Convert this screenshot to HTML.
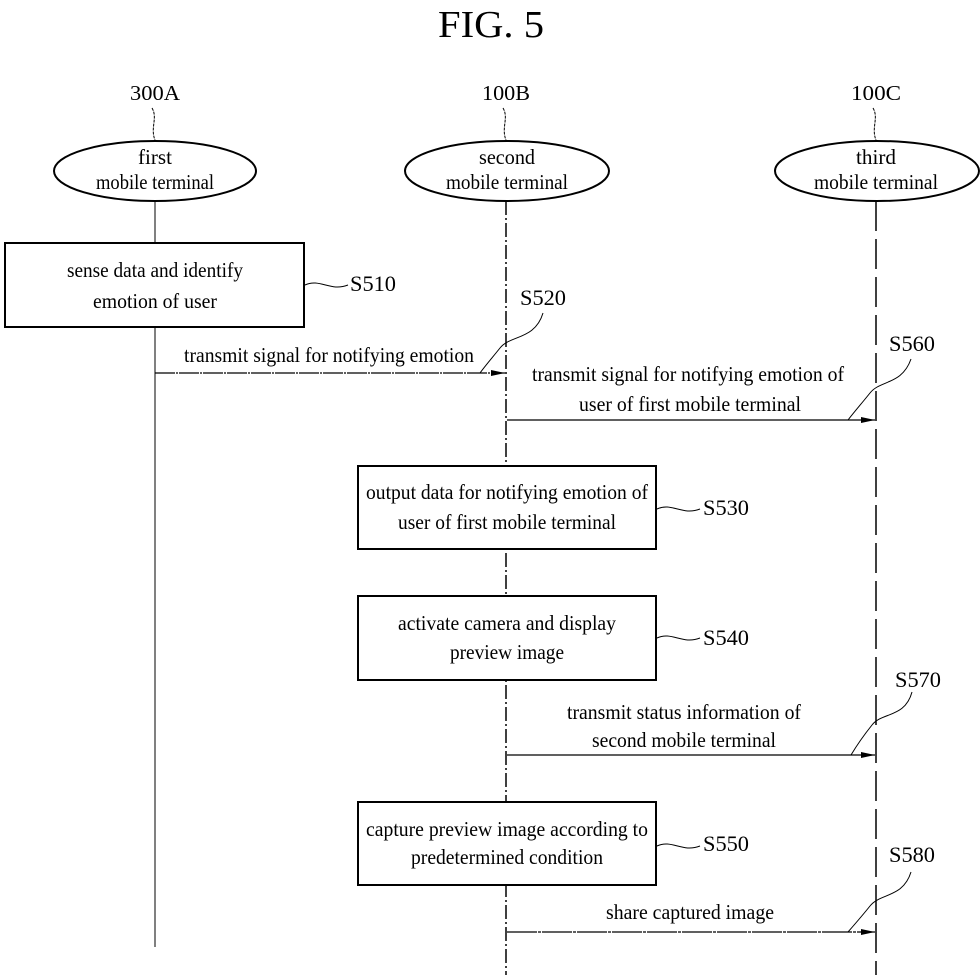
<!DOCTYPE html>
<html><head><meta charset="utf-8"><style>
html,body{margin:0;padding:0;background:#fff;}
svg{display:block;}
text{font-family:"Liberation Serif",serif;fill:#000;}
</style></head><body>
<svg width="980" height="980" viewBox="0 0 980 980" xmlns="http://www.w3.org/2000/svg">
<defs>
<marker id="ar" markerWidth="14" markerHeight="8" refX="14" refY="4" orient="auto" markerUnits="userSpaceOnUse">
<path d="M0,1 L14,4 L0,7 Z" fill="#000"/>
</marker>
</defs>
<text x="491" y="37" font-size="38" text-anchor="middle" textLength="106" lengthAdjust="spacingAndGlyphs">FIG. 5</text>

<text x="155" y="100" font-size="21" text-anchor="middle" textLength="50" lengthAdjust="spacingAndGlyphs">300A</text>
<text x="506" y="100" font-size="21" text-anchor="middle" textLength="48" lengthAdjust="spacingAndGlyphs">100B</text>
<text x="876" y="100" font-size="21" text-anchor="middle" textLength="50" lengthAdjust="spacingAndGlyphs">100C</text>
<g fill="none" stroke="#000" stroke-width="1" stroke-dasharray="3,1">
<path d="M152,108 C158,118 150,128 155,140"/>
<path d="M503,108 C509,118 501,128 506,140"/>
<path d="M873,108 C879,118 871,128 876,140"/>
</g>

<g fill="#fff" stroke="#000" stroke-width="2">
<ellipse cx="155" cy="171" rx="101" ry="30"/>
<ellipse cx="507" cy="171" rx="102" ry="30"/>
<ellipse cx="877" cy="171" rx="102" ry="30"/>
</g>
<g font-size="21" text-anchor="middle">
<text x="155" y="164" textLength="34" lengthAdjust="spacingAndGlyphs">first</text>
<text x="155" y="189" textLength="118" lengthAdjust="spacingAndGlyphs">mobile terminal</text>
<text x="507" y="164" textLength="56" lengthAdjust="spacingAndGlyphs">second</text>
<text x="507" y="189" textLength="122" lengthAdjust="spacingAndGlyphs">mobile terminal</text>
<text x="876" y="164" textLength="40" lengthAdjust="spacingAndGlyphs">third</text>
<text x="876" y="189" textLength="124" lengthAdjust="spacingAndGlyphs">mobile terminal</text>
</g>

<line x1="155" y1="201" x2="155" y2="947" stroke="#000" stroke-width="1"/>
<line x1="506" y1="201" x2="506" y2="975" stroke="#000" stroke-width="1.5" stroke-dasharray="14,3,2,3"/>
<line x1="876" y1="201" x2="876" y2="975" stroke="#000" stroke-width="1.5" stroke-dasharray="30,8"/>

<g fill="#fff" stroke="#000" stroke-width="2">
<rect x="5" y="243" width="299" height="84"/>
<rect x="358" y="466" width="298" height="83"/>
<rect x="358" y="596" width="298" height="84"/>
<rect x="358" y="802" width="298" height="83"/>
</g>
<g font-size="21" text-anchor="middle">
<text x="155" y="277" textLength="176" lengthAdjust="spacingAndGlyphs">sense data and identify</text>
<text x="155" y="308" textLength="124" lengthAdjust="spacingAndGlyphs">emotion of user</text>
<text x="507" y="499" textLength="282" lengthAdjust="spacingAndGlyphs">output data for notifying emotion of</text>
<text x="507" y="529" textLength="218" lengthAdjust="spacingAndGlyphs">user of first mobile terminal</text>
<text x="507" y="630" textLength="218" lengthAdjust="spacingAndGlyphs">activate camera and display</text>
<text x="507" y="659" textLength="114" lengthAdjust="spacingAndGlyphs">preview image</text>
<text x="507" y="836" textLength="282" lengthAdjust="spacingAndGlyphs">capture preview image according to</text>
<text x="507" y="864" textLength="192" lengthAdjust="spacingAndGlyphs">predetermined condition</text>
</g>

<g font-size="22">
<text x="350" y="291" textLength="46" lengthAdjust="spacingAndGlyphs">S510</text>
<text x="520" y="305" textLength="46" lengthAdjust="spacingAndGlyphs">S520</text>
<text x="889" y="351" textLength="46" lengthAdjust="spacingAndGlyphs">S560</text>
<text x="703" y="515" textLength="46" lengthAdjust="spacingAndGlyphs">S530</text>
<text x="703" y="645" textLength="46" lengthAdjust="spacingAndGlyphs">S540</text>
<text x="895" y="687" textLength="46" lengthAdjust="spacingAndGlyphs">S570</text>
<text x="703" y="851" textLength="46" lengthAdjust="spacingAndGlyphs">S550</text>
<text x="889" y="862" textLength="46" lengthAdjust="spacingAndGlyphs">S580</text>
</g>
<g fill="none" stroke="#000" stroke-width="1">
<path d="M305,285 C320,278 330,292 348,285"/>
<path d="M657,509 C672,502 682,516 700,509"/>
<path d="M657,638 C672,631 682,645 700,638"/>
<path d="M657,846 C672,839 682,853 700,846"/>
<path d="M543,313 C535,340 510,335 500,348 C492,358 485,366 480,373"/>
<path d="M911,359 C902,385 880,380 870,393 C862,403 855,411 848,420"/>
<path d="M912,692 C905,718 882,712 872,725 C864,735 857,745 851,755"/>
<path d="M911,872 C903,898 880,893 870,906 C862,916 855,924 848,932"/>
</g>

<g stroke="#000" stroke-width="1.3" marker-end="url(#ar)">
<line x1="155" y1="373" x2="505" y2="373" stroke-dasharray="20,1,2,1"/>
<line x1="507" y1="420" x2="875" y2="420"/>
<line x1="507" y1="755" x2="875" y2="755"/>
<line x1="507" y1="932" x2="875" y2="932" stroke-dasharray="30,1,3,1"/>
</g>
<g font-size="21" text-anchor="middle">
<text x="329" y="362" textLength="290" lengthAdjust="spacingAndGlyphs">transmit signal for notifying emotion</text>
<text x="688" y="381" textLength="312" lengthAdjust="spacingAndGlyphs">transmit signal for notifying emotion of</text>
<text x="690" y="411" textLength="222" lengthAdjust="spacingAndGlyphs">user of first mobile terminal</text>
<text x="684" y="719" textLength="234" lengthAdjust="spacingAndGlyphs">transmit status information of</text>
<text x="684" y="747" textLength="184" lengthAdjust="spacingAndGlyphs">second mobile terminal</text>
<text x="690" y="919" textLength="168" lengthAdjust="spacingAndGlyphs">share captured image</text>
</g>
</svg>
</body></html>
